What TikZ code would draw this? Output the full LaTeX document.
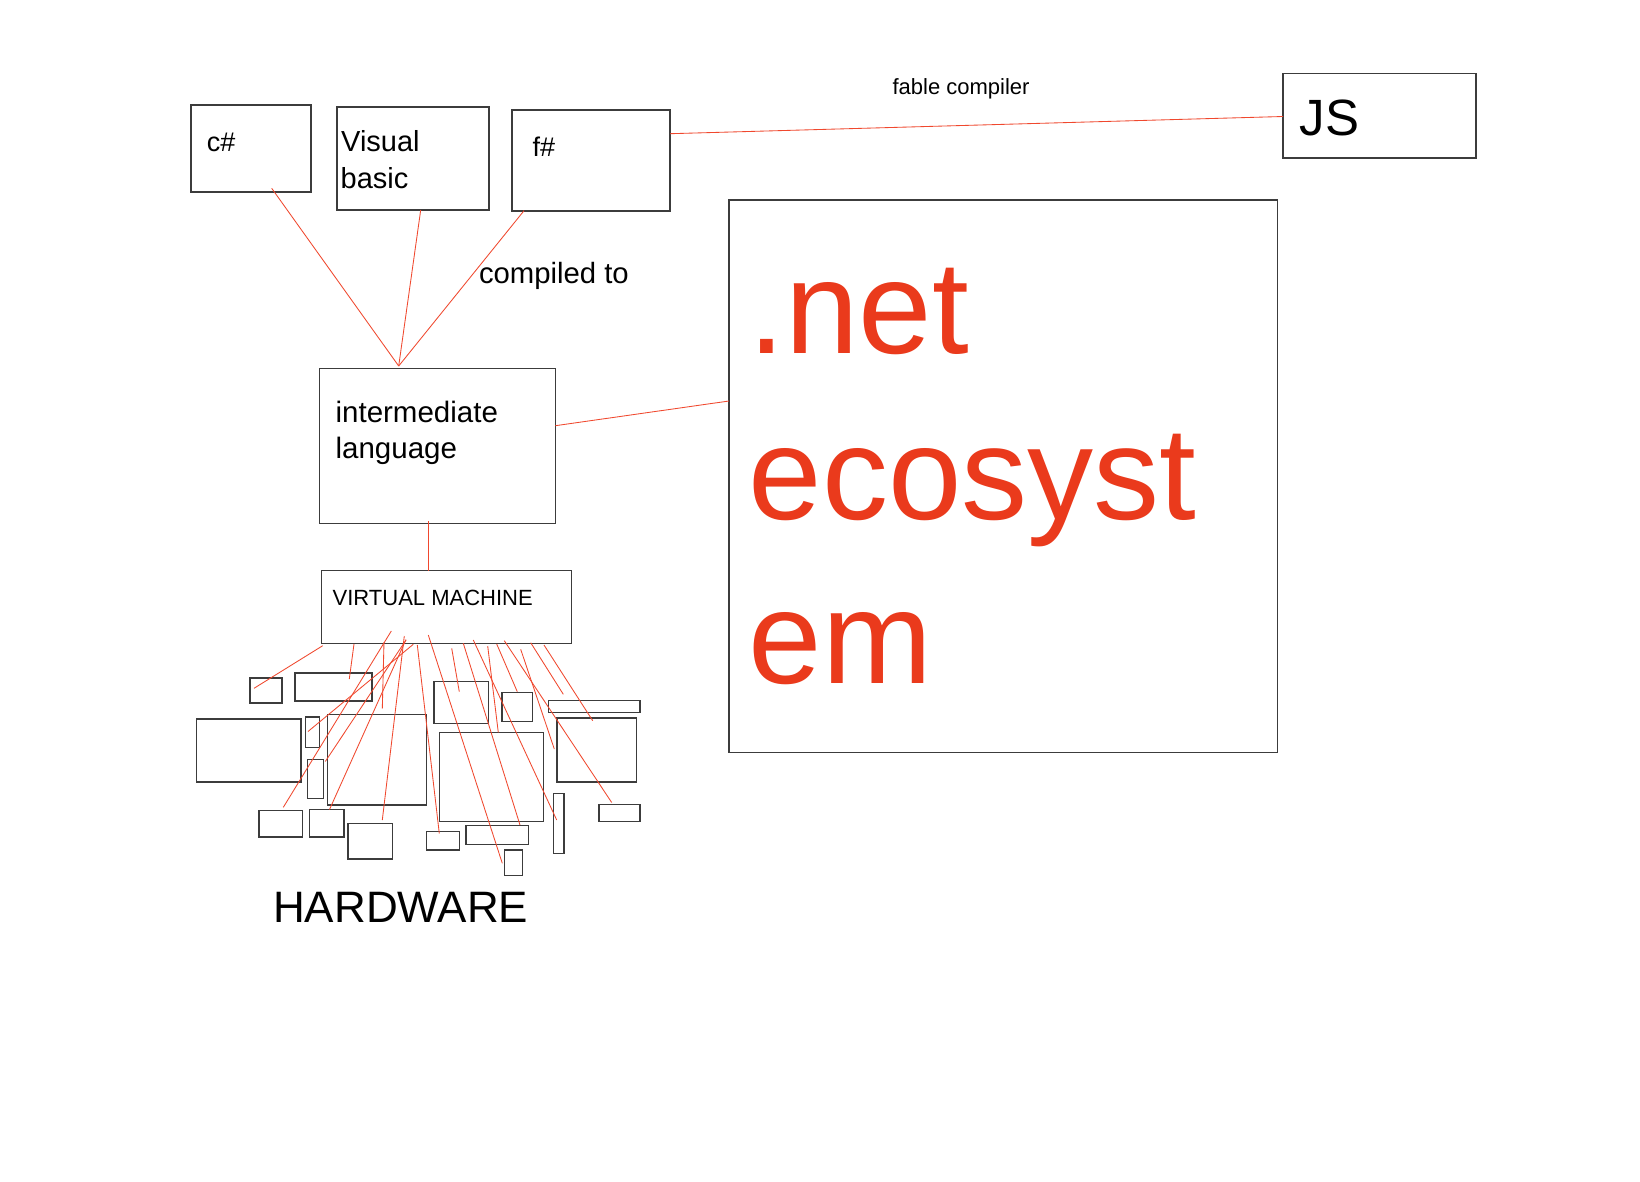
\documentclass[tikz,border=0pt]{standalone}
\usepackage{fontspec}
\setmainfont{Liberation Sans}
\usetikzlibrary{fit}
\definecolor{netred}{RGB}{234,58,28}
\definecolor{linered}{RGB}{240,72,46}
\definecolor{boxgray}{RGB}{60,60,60}
\tikzset{
  box/.style={draw=boxgray, line width=1.1pt, inner sep=0pt, outer sep=0pt},
  wire/.style={draw=linered, line width=0.85pt},
  lbl/.style={inner sep=0pt, anchor=base west, text=black},
}
\newcommand\rectnode[5]{\node[box, fit={(#2,#3) (#4,#5)}] (#1) {};}
\begin{document}
\begin{tikzpicture}[x=1pt,y=-1pt]
\useasboundingbox (0,0) rectangle (1640,1181);
\fill[white] (0,0) rectangle (1640,1181);

% main boxes
\rectnode{cs}{191}{105}{311}{192}
\rectnode{vb}{337}{107}{489}{210}
\rectnode{fs}{512}{110}{670}{211}
\rectnode{il}{319.7}{368.3}{555.3}{523.3}
\rectnode{vm}{321.7}{570.7}{571.7}{643.3}
\rectnode{net}{729}{200}{1277.7}{752.7}
\rectnode{js}{1283}{73.3}{1476}{158}

% hardware boxes
\rectnode{r1}{250}{678}{282}{703}
\rectnode{r2}{295}{673}{372}{701}
\rectnode{r3}{196.3}{719}{301}{782}
\rectnode{r4}{305.3}{717}{319.7}{747.7}
\rectnode{r5}{307.3}{759.7}{323.3}{798.3}
\rectnode{r6}{327.3}{714.3}{426.3}{805}
\rectnode{r7}{259}{810.3}{302.3}{837}
\rectnode{r8}{309.7}{809.3}{344}{837}
\rectnode{r9}{348}{823.3}{392.3}{859}
\rectnode{r10}{434}{681.7}{488.3}{723.7}
\rectnode{r11}{502}{692.7}{532.3}{721.3}
\rectnode{r12}{548.3}{700.3}{640}{712.3}
\rectnode{r13}{557}{718}{636.7}{782}
\rectnode{r14}{439.3}{732.3}{543.3}{821.7}
\rectnode{r15}{553.7}{793.7}{564}{853.3}
\rectnode{r16}{599}{804.7}{640}{821.7}
\rectnode{r17}{426.3}{831.3}{459.3}{850}
\rectnode{r18}{466}{825.7}{528.7}{844.7}
\rectnode{r19}{504.3}{850}{522.3}{875.3}

% texts
\node[lbl, font=\fontsize{27}{27}\selectfont] (tcs) at (206.7,151) {c\#};
\node[lbl, font=\fontsize{29}{29}\selectfont] (tvb1) at (341,151.5) {Visual};
\node[lbl, font=\fontsize{29}{29}\selectfont] (tvb2) at (340.5,188.5) {basic};
\node[lbl, font=\fontsize{27}{27}\selectfont] (tfs) at (532.3,156) {f\#};
\node[lbl, font=\fontsize{29.3}{29.3}\selectfont] (tcomp) at (478.8,283.2) {compiled to};
\node[lbl, font=\fontsize{29.5}{29.5}\selectfont] (til1) at (335.4,422) {intermediate};
\node[lbl, font=\fontsize{29.5}{29.5}\selectfont] (til2) at (335.4,458.5) {language};
\node[lbl, font=\fontsize{22}{22}\selectfont] (tvm) at (332.5,605.7) {VIRTUAL MACHINE};
\node[lbl, font=\fontsize{44}{44}\selectfont] (thw) at (273,922.7) {HARDWARE};
\node[lbl, font=\fontsize{51}{51}\selectfont] (tjs) at (1299.7,135) {JS};
\node[lbl, font=\fontsize{22}{22}\selectfont] (tfable) at (892.4,94.3) {fable compiler};
\node[lbl, text=netred, font=\fontsize{132}{132}\selectfont] (tnet1) at (748.6,353) {.net};
\node[lbl, text=netred, font=\fontsize{132}{132}\selectfont] (tnet2) at (748.6,519.5) {ecosyst};
\node[lbl, text=netred, font=\fontsize{132}{132}\selectfont] (tnet3) at (748.6,683.6) {em};

% connector end points
\coordinate (csOut) at (271.7,188.3);
\coordinate (vbOut) at (420.7,210);
\coordinate (fsOut) at (524,210.7);
\coordinate (ilTop) at (398.7,366);
\coordinate (ilRight) at (555.3,425.7);
\coordinate (netLeft) at (729,401);
\coordinate (ilBot) at (428.7,521);
\coordinate (vmTop) at (428.7,570.7);
\coordinate (fsRight) at (670,133.7);
\coordinate (jsLeft) at (1283,116.5);

\draw[wire] (csOut) -- (ilTop);
\draw[wire] (vbOut) -- (ilTop);
\draw[wire] (fsOut) -- (ilTop);
\draw[wire] (ilRight) -- (netLeft);
\draw[wire] (ilBot) -- (vmTop);
\draw[wire] (fsRight) -- (jsLeft);

% hardware scribbles from the virtual machine
\foreach \xa/\ya/\xb/\yb in {
  322.7/645.7/254/688.3,
  354/644/349.3/679,
  391.3/631/283.3/807.3,
  384/642/382.3/708.5,
  404.3/636/382.3/820,
  406/640/325.3/761.5,
  413.3/644.3/308/731.5,
  406/639.5/329.5/809.5,
  417.3/645/439.3/833.5,
  428.3/635/502.3/863.3,
  451.7/648.3/459.3/691.7,
  463.3/643.3/520/825,
  473.3/640/556.7/820,
  487.7/646/498.3/732.5,
  496.7/644/517.3/691.7,
  504.3/640.7/611.7/802.5,
  520.7/649.3/554.3/749,
  530.7/642.7/563.3/694.3,
  544/645/592.7/720.7}
  \draw[wire] (\xa,\ya) -- (\xb,\yb);
\end{tikzpicture}
\end{document}
